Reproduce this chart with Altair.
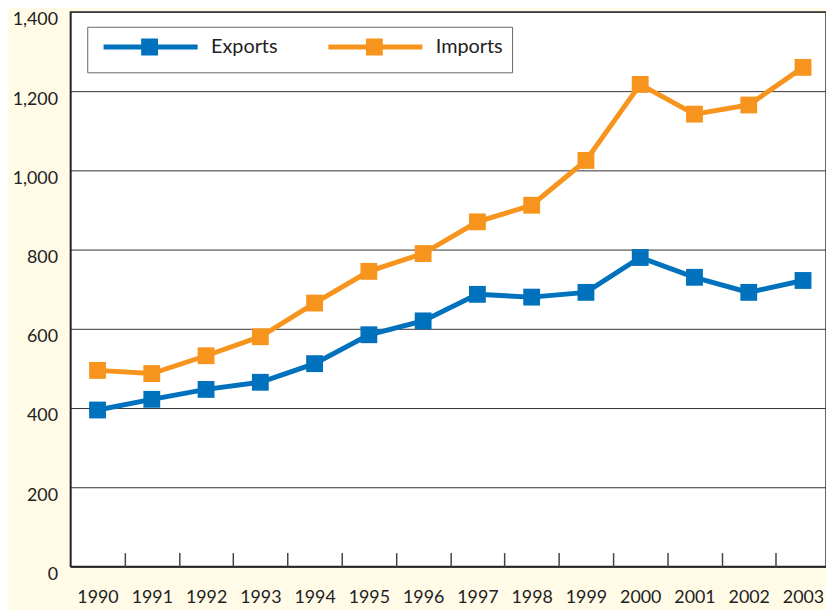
import altair as alt
import pandas as pd

# ---- data ----
years = list(range(1990, 2004))
exports = [395, 422, 447, 465, 512, 585, 620, 687, 680, 692, 780, 730, 692, 722]
imports = [495, 487, 532, 580, 665, 745, 790, 870, 912, 1025, 1217, 1142, 1165, 1260]
series = ["Exports", "Imports"]
colors = ["#0071BC", "#F7941D"]
y_ticks = [0, 200, 400, 600, 800, 1000, 1200, 1400]
tick_years = [y + 0.5 for y in years[:-1]]

df = pd.DataFrame({
    "Year": years + years,
    "Value": exports + imports,
    "Series": [series[0]] * len(years) + [series[1]] * len(years),
})

FONT = "Lato"
W, H = 763, 560
x_scale = alt.Scale(domain=[1989.5, 1989.5 + W / 54.8], nice=False, zero=False)
y_scale = alt.Scale(domain=[0, 1400], nice=False)

legend_path = "M-0.41,0L10.76,0M4.35,-0.71L5.76,-0.71L5.76,0.71L4.35,0.71Z"

color = alt.Color(
    "Series:N",
    scale=alt.Scale(domain=series, range=colors),
    legend=alt.Legend(
        title=None, orient="none", legendX=17, legendY=15,
        direction="horizontal", columns=2,
        symbolType=legend_path, symbolSize=289, symbolStrokeWidth=5,
        labelFont=FONT, labelFontSize=20, labelColor="#222", labelOffset=94,
        columnPadding=40, padding=9,
        fillColor="white", strokeColor="#666",
    ),
)

y_enc = alt.Y(
    "Value:Q", scale=y_scale,
    axis=alt.Axis(values=y_ticks, format=",d", title=None, grid=True,
                  gridColor="#333", gridWidth=1, tickSize=0,
                  labelFont=FONT, labelFontSize=18, labelColor="#222",
                  labelPadding=13, labelBaseline="top", labelOffset=-1,
                  domainColor="#222", domainWidth=1.5),
)

line = alt.Chart(df).mark_line(strokeWidth=5).encode(
    x=alt.X("Year:Q", scale=x_scale,
            axis=alt.Axis(values=years, format="d", title=None, grid=False,
                          tickSize=0, labelFont=FONT, labelFontSize=18,
                          labelColor="#222", labelPadding=22, labelFlush=False,
                          domainColor="#222", domainWidth=1.5)),
    y=y_enc,
    color=color,
)

points = alt.Chart(df).mark_point(shape="square", filled=True, size=289, opacity=1).encode(
    x=alt.X("Year:Q", scale=x_scale,
            axis=alt.Axis(orient="top", offset=-H, values=tick_years, labels=False,
                          domain=False, grid=False, tickSize=14, tickColor="#444",
                          tickWidth=1.5, title=None)),
    y=y_enc,
    color=color,
)

chart = alt.layer(line, points).resolve_axis(x="independent").properties(
    width=W, height=H,
    padding={"left": 63, "top": 1, "right": 0, "bottom": 41},
    autosize=alt.AutoSizeParams(type="none"),
    background="#FFFBE7",
).configure_view(fill="white", stroke="#333", strokeWidth=1.5)

chart.save("out.html", embed_options={"renderer": "svg", "actions": False})
